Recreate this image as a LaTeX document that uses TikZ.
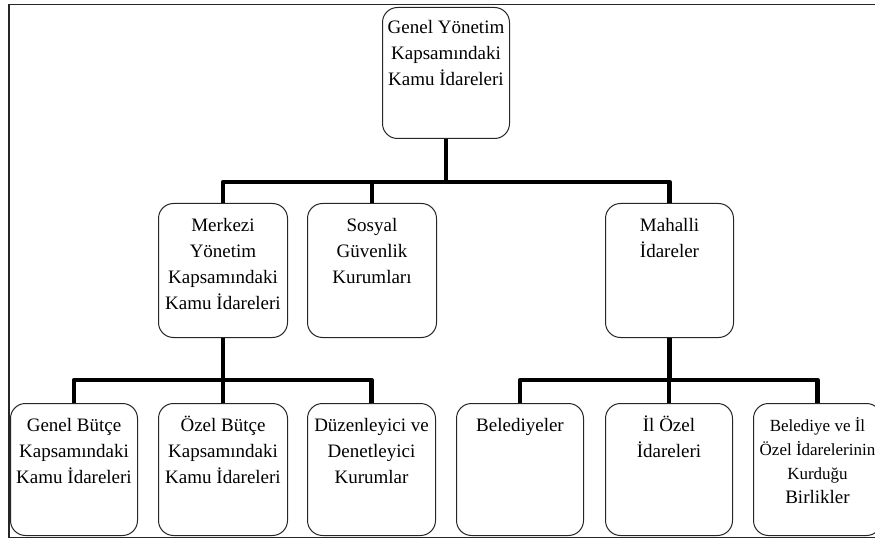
\documentclass[tikz,border=0pt]{standalone}
\usepackage{fontspec}
\setmainfont{Liberation Serif}
\begin{document}
\begin{tikzpicture}[x=1pt,y=-1pt,
 box/.style={draw=black!85, line width=1pt, rounded corners=15pt, anchor=north west, inner sep=0pt, fill=white},
 txt/.style={anchor=north, inner sep=0pt, align=center, font=\fontsize{19}{26}\selectfont, yshift=-10pt},
 conn/.style={line width=4.3pt, line join=round}]
\useasboundingbox (0,0) rectangle (875,540);
\draw[line width=1.4pt, black!85] (880,4.5) -- (9,4.5) -- (9,537.5) -- (880,537.5);
\coordinate (b1) at (0,182);
\coordinate (b2) at (0,380);
% boxes
\node[box, minimum width=127pt, minimum height=131pt] (top) at (382,7) {};
\node[box, minimum width=129pt, minimum height=134pt] (merk) at (158,203) {};
\node[box, minimum width=129pt, minimum height=134pt] (sos) at (307,203) {};
\node[box, minimum width=128pt, minimum height=134pt] (mah) at (605,203) {};
\node[box, minimum width=127pt, minimum height=132pt] (gb) at (10,403) {};
\node[box, minimum width=129pt, minimum height=132pt] (ob) at (158,403) {};
\node[box, minimum width=128pt, minimum height=132pt] (dz) at (307,403) {};
\node[box, minimum width=127pt, minimum height=132pt] (bel) at (456,403) {};
\node[box, minimum width=127pt, minimum height=132pt] (il) at (605,403) {};
\node[box, minimum width=128pt, minimum height=132pt] (bir) at (753,403) {};
% connectors
\draw[conn] (top.south) -- (top.south |- b1);
\draw[conn] (merk.north) -- (merk.north |- b1) -- (mah.north |- b1) -- (mah.north);
\draw[conn] (sos.north) -- (sos.north |- b1);
\draw[conn] (merk.south) -- (merk.south |- b2);
\draw[conn] (gb.north) -- (gb.north |- b2) -- (dz.north |- b2) -- (dz.north);
\draw[conn] (ob.north) -- (ob.north |- b2);
\draw[conn] (mah.south) -- (mah.south |- b2);
\draw[conn] (bel.north) -- (bel.north |- b2) -- (bir.north |- b2) -- (bir.north);
\draw[conn] (il.north) -- (il.north |- b2);
% texts
\node[txt, yshift=2pt] (ttop) at (top.north) {\strut Genel Yönetim\\Kapsamındaki\\Kamu İdareleri};
\node[txt] (tmerk) at (merk.north) {\strut Merkezi\\Yönetim\\Kapsamındaki\\Kamu İdareleri};
\node[txt] (tsos) at (sos.north) {\strut Sosyal\\Güvenlik\\Kurumları};
\node[txt] (tmah) at (mah.north) {\strut Mahalli\\İdareler};
\node[txt] (tgb) at (gb.north) {\strut Genel Bütçe\\Kapsamındaki\\Kamu İdareleri};
\node[txt] (tob) at (ob.north) {\strut Özel Bütçe\\Kapsamındaki\\Kamu İdareleri};
\node[txt] (tdz) at (dz.north) {\strut Düzenleyici ve\\Denetleyici\\Kurumlar};
\node[txt] (tbel) at (bel.north) {\strut Belediyeler};
\node[txt] (til) at (il.north) {\strut İl Özel\\İdareleri};
\node[txt, font=\fontsize{17}{24}\selectfont, yshift=-1pt] (tbir) at (bir.north) {\strut Belediye ve İl\\Özel İdarelerinin\\Kurduğu\\{\fontsize{19}{24}\selectfont Birlikler}};
\end{tikzpicture}
\end{document}
